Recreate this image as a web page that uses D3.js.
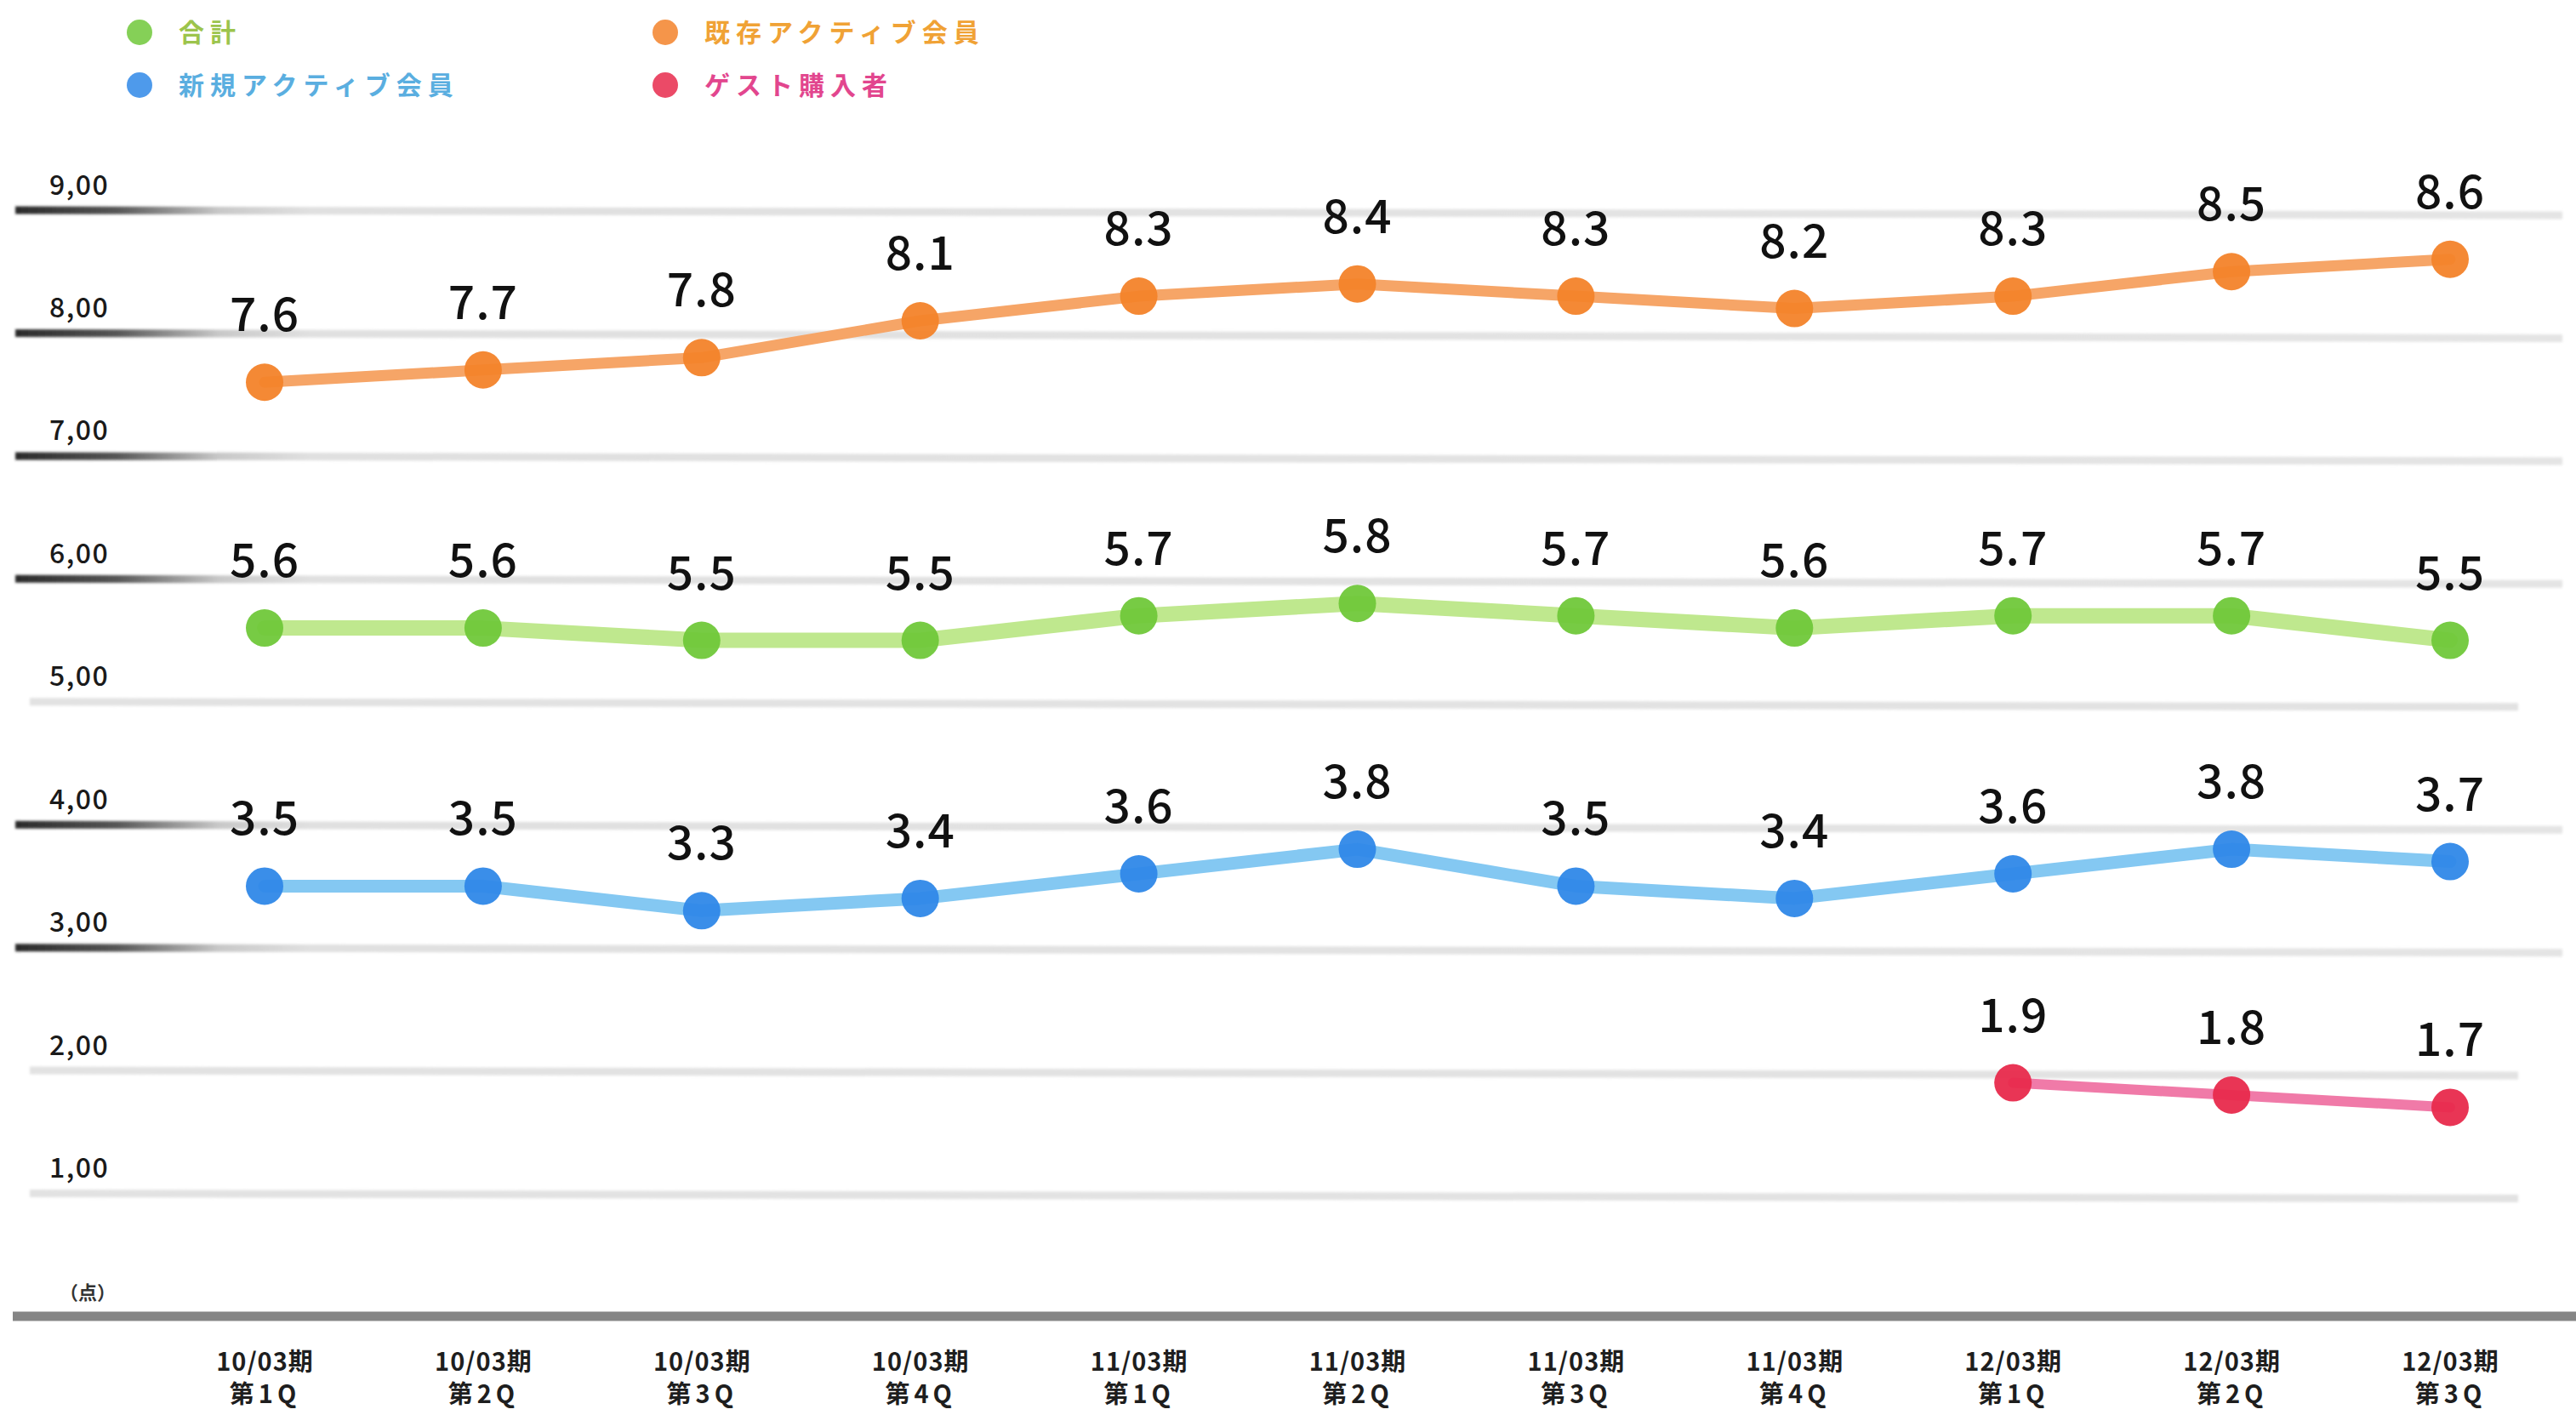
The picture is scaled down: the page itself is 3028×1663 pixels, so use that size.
<!DOCTYPE html>
<html>
<head>
<meta charset="utf-8">
<script src="https://cdn.jsdelivr.net/npm/d3@7"></script>
<style>
  html, body { margin: 0; padding: 0; background: #ffffff; }
  svg { display: block; }
</style>
</head>
<body>
<svg id="chart" width="3028" height="1663"></svg>
<script>
// ---------- data ----------
const periods  = ["10/03期","10/03期","10/03期","10/03期","11/03期","11/03期","11/03期","11/03期","12/03期","12/03期","12/03期"];
const quarters = ["第1Q","第2Q","第3Q","第4Q","第1Q","第2Q","第3Q","第4Q","第1Q","第2Q","第3Q"];
const totalValues    = [5.6, 5.6, 5.5, 5.5, 5.7, 5.8, 5.7, 5.6, 5.7, 5.7, 5.5];
const existingValues = [7.6, 7.7, 7.8, 8.1, 8.3, 8.4, 8.3, 8.2, 8.3, 8.5, 8.6];
const newValues      = [3.5, 3.5, 3.3, 3.4, 3.6, 3.8, 3.5, 3.4, 3.6, 3.8, 3.7];
const guestValues    = [null, null, null, null, null, null, null, null, 1.9, 1.8, 1.7];
const yTicks = [1, 2, 3, 4, 5, 6, 7, 8, 9];
const darkTicks = [3, 4, 6, 7, 8, 9];
const legendNames = ["合計", "新規アクティブ会員", "既存アクティブ会員", "ゲスト購入者"];
const unitLabel = "（点）";

// ---------- styles ----------
const series = [
  { name: legendNames[2], values: existingValues, line: "#f6a567", dot: "#f3832a", width: 13, text: "#f0a235" },
  { name: legendNames[0], values: totalValues,    line: "#bfe88e", dot: "#70c83a", width: 18, text: "#9cc44c" },
  { name: legendNames[1], values: newValues,      line: "#84c8f2", dot: "#2f88e8", width: 15, text: "#5aaee0" },
  { name: legendNames[3], values: guestValues,    line: "#f07aa8", dot: "#e82a4c", width: 12, text: "#e2468e" }
];

const svg = d3.select("#chart");
const idx = d3.range(periods.length);
const x = d3.scalePoint().domain(idx).range([311, 2880]);
const y = d3.scaleLinear().domain([0, 9]).range([1547, 247]);

const defs = svg.append("defs");
const grad = defs.append("linearGradient")
  .attr("id", "gridDark").attr("gradientUnits", "userSpaceOnUse")
  .attr("x1", 0).attr("x2", 3028).attr("y1", 0).attr("y2", 0);
grad.append("stop").attr("offset", 0.006).attr("stop-color", "#2a2a2a");
grad.append("stop").attr("offset", 0.045).attr("stop-color", "#555");
grad.append("stop").attr("offset", 0.085).attr("stop-color", "#c8c8c8");
grad.append("stop").attr("offset", 0.12).attr("stop-color", "#e0e0e0");
grad.append("stop").attr("offset", 1).attr("stop-color", "#e4e4e4");
const soft = defs.append("filter").attr("id", "soft").attr("x", "-5%").attr("y", "-200%").attr("width", "110%").attr("height", "500%");
soft.append("feGaussianBlur").attr("stdDeviation", 1.6);

// ---------- gridlines ----------
const grid = svg.append("g");
grid.selectAll("line.g").data(yTicks).join("line")
  .attr("x1", d => darkTicks.includes(d) ? 18 : 35)
  .attr("x2", d => (d <= 2 || d === 5) ? 2960 : 3012)
  .attr("y1", d => y(d)).attr("y2", d => y(d) + 6)
  .attr("stroke", d => darkTicks.includes(d) ? "url(#gridDark)" : "#e2e2e2")
  .attr("stroke-width", 9)
  .attr("filter", "url(#soft)");

// baseline
svg.append("line")
  .attr("x1", 15).attr("x2", 3028).attr("y1", y(0)).attr("y2", y(0))
  .attr("stroke", "#858585").attr("stroke-width", 11);

// y axis labels
const yAxis = d3.axisRight(y).tickValues(yTicks).tickSize(0)
  .tickFormat(d => d3.format(".2f")(d).replace(".", ","));
const yG = svg.append("g").attr("transform", "translate(58,0)").call(yAxis);
yG.select(".domain").remove();
yG.selectAll("text")
  .attr("x", 0).attr("dy", -19)
  .attr("text-anchor", "start")
  .attr("font-family", "'Noto Sans CJK JP', 'Noto Sans', sans-serif")
  .attr("font-weight", 500).attr("font-size", 32)
  .attr("letter-spacing", 1.5)
  .attr("fill", "#1a1a1a");

svg.append("text").attr("x", 70).attr("y", 1527)
  .attr("font-family", "'Noto Sans CJK JP', sans-serif")
  .attr("font-weight", 700).attr("font-size", 22).attr("fill", "#333")
  .text(unitLabel);

// x axis labels
const xAxis = d3.axisBottom(x).tickSize(0).tickFormat(() => "");
const xG = svg.append("g").attr("transform", `translate(0,${y(0)})`).call(xAxis);
xG.select(".domain").remove();
xG.selectAll(".tick text").each(function(d) {
  const t = d3.select(this).attr("y", 0).attr("dy", null)
    .attr("font-family", "'Noto Sans CJK JP', sans-serif")
    .attr("font-weight", 700).attr("font-size", 29)
    .attr("fill", "#1e1e1e").attr("text-anchor", "middle");
  t.append("tspan").attr("x", 0).attr("y", 64).attr("letter-spacing", 1).text(periods[d]);
  t.append("tspan").attr("x", 0).attr("y", 102).attr("letter-spacing", 5).text(quarters[d]);
});

// ---------- series ----------
const lineGen = d3.line().defined(d => d.v != null).x(d => x(d.i)).y(d => y(d.v));
series.forEach(s => {
  const pts = s.values.map((v, i) => ({ i, v }));
  const g = svg.append("g");
  g.append("path").datum(pts)
    .attr("d", lineGen).attr("fill", "none")
    .attr("stroke", s.line).attr("stroke-width", s.width)
    .attr("stroke-linejoin", "round").attr("stroke-linecap", "round");
  const valid = pts.filter(d => d.v != null);
  g.selectAll("circle").data(valid).join("circle")
    .attr("cx", d => x(d.i)).attr("cy", d => y(d.v)).attr("r", 22)
    .attr("fill", s.dot).attr("opacity", 0.95);
  g.selectAll("text").data(valid).join("text")
    .attr("x", d => x(d.i)).attr("y", d => y(d.v) - 60)
    .attr("text-anchor", "middle")
    .attr("font-family", "'Noto Sans CJK JP', 'Noto Sans', sans-serif")
    .attr("font-weight", 500)
    .attr("font-size", 55).attr("letter-spacing", 1).attr("fill", "#111")
    .text(d => d3.format(".1f")(d.v));
});

// ---------- legend ----------
const legendItems = [
  { s: series[1], x: 164, y: 38 },
  { s: series[2], x: 164, y: 100 },
  { s: series[0], x: 782, y: 38 },
  { s: series[3], x: 782, y: 100 }
];
const lg = svg.append("g").selectAll("g").data(legendItems).join("g")
  .attr("transform", d => `translate(${d.x},${d.y})`);
lg.append("circle").attr("r", 15).attr("fill", d => d.s.dot).attr("opacity", 0.85);
lg.append("text").attr("x", 46).attr("y", 0).attr("dy", "0.36em")
  .attr("font-family", "'Noto Sans CJK JP', sans-serif")
  .attr("font-weight", 700).attr("font-size", 30).attr("letter-spacing", 7)
  .attr("fill", d => d.s.text)
  .text(d => d.s.name);
</script>
</body>
</html>
